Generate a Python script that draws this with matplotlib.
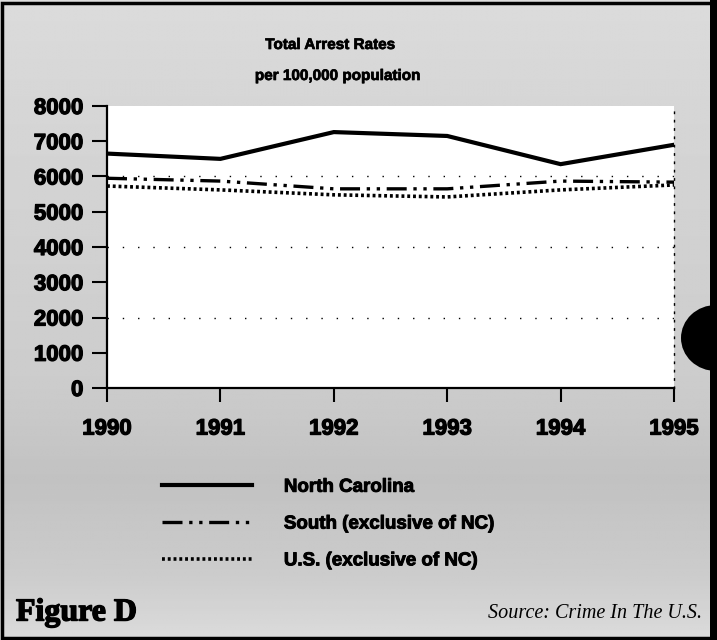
import matplotlib
matplotlib.use("Agg")
import matplotlib.pyplot as plt
import numpy as np
from matplotlib.patches import Rectangle, Ellipse
import matplotlib.patheffects as pe

years = [1990, 1991, 1992, 1993, 1994, 1995]
north_carolina = [6650, 6500, 7260, 7150, 6350, 6900]
south_excl_nc = [5950, 5870, 5650, 5650, 5870, 5840]
us_excl_nc = [5730, 5620, 5480, 5420, 5620, 5760]
y_ticks = [0, 1000, 2000, 3000, 4000, 5000, 6000, 7000, 8000]
grid_levels = [2000, 4000, 6000]
labels = ["North Carolina", "South (exclusive of NC)", "U.S. (exclusive of NC)"]

W, H = 717, 640
bleed = [pe.withStroke(linewidth=0.9, foreground="black")]

fig = plt.figure(figsize=(W / 100, H / 100), dpi=100)
fig.patch.set_facecolor("#d0d0d0")

# stippled-paper background approximated by a soft vertical gray gradient
bg = fig.add_axes([0, 0, 1, 1], zorder=-10)
rows = np.linspace(0, 1, 256)
shade = np.interp(rows, [0.0, 0.15, 0.6, 0.75, 0.9, 1.0],
                  [0.86, 0.84, 0.80, 0.76, 0.80, 0.86])
bg.imshow(shade[:, None].repeat(4, axis=1), cmap="gray", vmin=0, vmax=1,
          aspect="auto", extent=[0, 1, 1, 0], interpolation="bilinear")
bg.set_axis_off()

ax = fig.add_axes([107 / W, 1 - 388 / H, (674 - 107) / W, (388 - 106) / H])
ax.set_facecolor("white")

ax.plot(years, north_carolina, color="black", lw=3.0, solid_joinstyle="miter")
ax.plot(years, south_excl_nc, color="black", lw=2.4,
        linestyle=(0, (6, 2, 1, 2, 1, 2)))
ax.plot(years, us_excl_nc, color="black", lw=2.6, linestyle=(0, (0.8, 0.8)))

for g in grid_levels:
    ax.axhline(g, color="black", lw=1.0, linestyle=(0, (1, 10)), zorder=0)

ax.set_xlim(1990, 1995)
ax.set_ylim(0, 8000)
ax.set_xticks(years)
ax.set_yticks(y_ticks)
ax.set_xticklabels([str(y) for y in years], fontsize=16, fontweight="bold",
                   family="Liberation Sans")
ax.set_yticklabels([str(v) for v in y_ticks], fontsize=16, fontweight="bold",
                   family="Liberation Sans")
for t in ax.get_xticklabels() + ax.get_yticklabels():
    t.set_path_effects(bleed)
ax.tick_params(axis="y", direction="out", length=11, width=1.5, pad=6)
ax.tick_params(axis="x", direction="out", length=10, width=1.5, pad=12)
ax.spines["top"].set_visible(False)
ax.spines["right"].set_linestyle((0, (1, 5)))
ax.spines["right"].set_linewidth(1)
ax.spines["left"].set_linewidth(1.6)
ax.spines["bottom"].set_linewidth(1.6)

for y, x, s in [(45, 330, "Total Arrest Rates"), (76, 338, "per 100,000 population")]:
    t = fig.text(x / W, 1 - y / H, s, ha="center", va="center", fontsize=11,
                 fontweight="bold", family="Liberation Sans")
    t.set_path_effects([pe.withStroke(linewidth=0.5, foreground="black")])

handles = ax.get_lines()[:3]
leg = fig.legend(handles, labels, loc="center left",
                 bbox_to_anchor=(162 / W, 1 - 524 / H),
                 frameon=False, handlelength=4.8, handletextpad=1.7,
                 labelspacing=1.05, borderpad=0, borderaxespad=0,
                 prop={"family": "Liberation Sans", "weight": "bold", "size": 13.5})
for t in leg.get_texts():
    t.set_path_effects([pe.withStroke(linewidth=0.7, foreground="black")])

ft = fig.text(16 / W, 1 - 613 / H, "Figure D", ha="left", va="center",
              fontsize=23, fontweight="bold", family="Liberation Serif")
ft.set_path_effects([pe.withStroke(linewidth=1.0, foreground="black")])
fig.text(702 / W, 1 - 613 / H, "Source: Crime In The U.S.", ha="right",
         va="center", fontsize=14.5, style="italic", family="Liberation Serif")

fig.patches.append(Rectangle((2 / W, 2 / H), 711 / W, 635 / H, fill=False,
                             edgecolor="black", lw=2.5,
                             transform=fig.transFigure))
fig.patches.append(Rectangle((710 / W, 0), 7 / W, 1, facecolor="black",
                             edgecolor="none", transform=fig.transFigure))
fig.patches.append(Ellipse((716 / W, 1 - 338 / H), 70 / W, 66 / H,
                           facecolor="black", edgecolor="none",
                           transform=fig.transFigure))

fig.savefig("out.png", dpi=100, facecolor=fig.get_facecolor())
